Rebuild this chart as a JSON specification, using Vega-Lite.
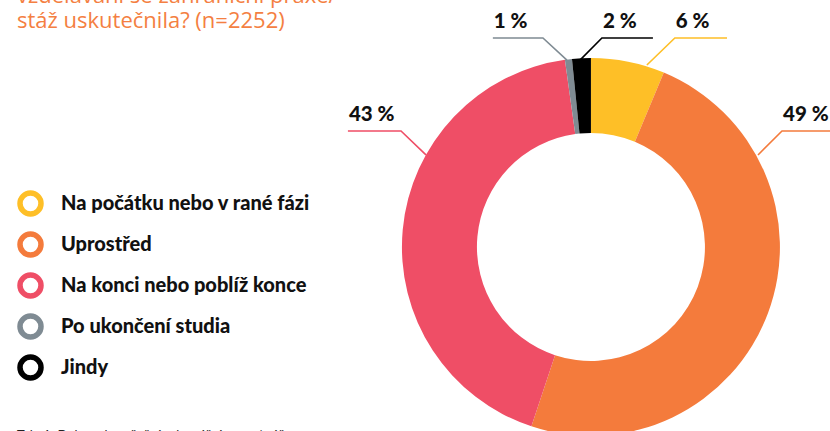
{
  "$schema": "https://vega.github.io/schema/vega-lite/v6.json",
  "width": 830,
  "height": 431,
  "autosize": "none",
  "padding": 0,
  "background": "white",
  "config": {"view": {"stroke": null}},
  "title": {
    "text": ["vzdělávání se zahraniční praxe/", "stáž uskutečnila? (n=2252)"],
    "anchor": "start",
    "frame": "group",
    "font": "Open Sans",
    "fontSize": 22,
    "fontWeight": "normal",
    "color": "#F47F42",
    "lineHeight": 25,
    "baseline": "alphabetic",
    "dx": 17,
    "dy": 54
  },
  "datasets": {
    "slices": [
      {"k": "Na počátku nebo v rané fázi", "v": 6.3, "o": 1},
      {"k": "Uprostřed", "v": 48.8, "o": 2},
      {"k": "Na konci nebo poblíž konce", "v": 42.7, "o": 3},
      {"k": "Po ukončení studia", "v": 0.6, "o": 4},
      {"k": "Jindy", "v": 1.6, "o": 5}
    ],
    "leaders": [
      {"k": "Po ukončení studia", "o": 1, "x": -51.9, "y": 110.6, "t": "1 %"},
      {"k": "Po ukončení studia", "o": 2, "x": -25.4, "y": 110.6},
      {"k": "Po ukončení studia", "o": 3, "x": -12.7, "y": 98.9},
      {"k": "Jindy", "o": 1, "x": -5.8, "y": 98.9},
      {"k": "Jindy", "o": 2, "x": 5.8, "y": 110.6, "t": "2 %"},
      {"k": "Jindy", "o": 3, "x": 32.8, "y": 110.6},
      {"k": "Na počátku nebo v rané fázi", "o": 1, "x": 29.6, "y": 96.3},
      {"k": "Na počátku nebo v rané fázi", "o": 2, "x": 44.4, "y": 110.6, "t": "6 %"},
      {"k": "Na počátku nebo v rané fázi", "o": 3, "x": 72.0, "y": 110.6},
      {"k": "Na konci nebo poblíž konce", "o": 1, "x": -128.6, "y": 61.4, "t": "43 %"},
      {"k": "Na konci nebo poblíž konce", "o": 2, "x": -100.5, "y": 61.4},
      {"k": "Na konci nebo poblíž konce", "o": 3, "x": -87.3, "y": 48.7},
      {"k": "Uprostřed", "o": 1, "x": 88.4, "y": 48.7},
      {"k": "Uprostřed", "o": 2, "x": 101.1, "y": 61.4, "t": "49 %"},
      {"k": "Uprostřed", "o": 3, "x": 130.0, "y": 61.4}
    ],
    "notes": [
      {"t": "Tab. 1: Doba uskutečnění zahraniční praxe/stáže"}
    ]
  },
  "layer": [
    {
      "data": {"name": "slices"},
      "mark": {"type": "arc", "outerRadius": 189, "innerRadius": 114},
      "encoding": {
        "theta": {"field": "v", "type": "quantitative", "stack": true},
        "order": {"field": "o", "type": "quantitative"},
        "x": {"datum": 0, "type": "quantitative", "scale": {"domain": [-312.7, 126.5], "nice": false, "zero": false}, "axis": null},
        "y": {"datum": 0, "type": "quantitative", "scale": {"domain": [-97.4, 130.7], "nice": false, "zero": false}, "axis": null},
        "color": {
          "field": "k",
          "type": "nominal",
          "sort": null,
          "scale": {"range": ["#FEBF27", "#F47B3C", "#EF4E66", "#7F8B93", "#000000"]},
          "legend": null
        }
      }
    },
    {
      "data": {"name": "leaders"},
      "mark": {"type": "line", "strokeWidth": 1.6},
      "encoding": {
        "x": {"field": "x", "type": "quantitative"},
        "y": {"field": "y", "type": "quantitative"},
        "order": {"field": "o", "type": "quantitative"},
        "stroke": {
          "field": "k",
          "type": "nominal",
          "scale": {
            "domain": ["Na počátku nebo v rané fázi", "Uprostřed", "Na konci nebo poblíž konce", "Po ukončení studia", "Jindy"],
            "range": ["#FEBF27", "#F47B3C", "#EF4E66", "#7F8B93", "#000000"]
          },
          "legend": {
            "orient": "none",
            "legendX": 17,
            "legendY": 190,
            "title": null,
            "padding": 0,
            "labelFont": "Lato",
            "labelFontSize": 20,
            "labelFontWeight": 900,
            "labelColor": "#111111",
            "labelOffset": 17,
            "labelLimit": 0,
            "symbolType": "circle",
            "symbolSize": 441,
            "symbolStrokeWidth": 5.5,
            "symbolFillColor": "white",
            "rowPadding": -2
          }
        }
      }
    },
    {
      "data": {"name": "leaders"},
      "transform": [{"filter": "datum.t != null"}],
      "mark": {"type": "text", "align": "left", "baseline": "alphabetic", "dx": 1, "dy": -10, "font": "Lato", "fontSize": 20.5, "fontWeight": 900, "color": "#111111"},
      "encoding": {
        "x": {"field": "x", "type": "quantitative"},
        "y": {"field": "y", "type": "quantitative"},
        "text": {"field": "t"}
      }
    },
    {
      "data": {"name": "notes"},
      "mark": {"type": "text", "align": "left", "baseline": "alphabetic", "font": "Lato", "fontSize": 13, "color": "#222222"},
      "encoding": {
        "x": {"datum": -303.7, "type": "quantitative"},
        "y": {"datum": -102.1, "type": "quantitative"},
        "text": {"field": "t"}
      }
    }
  ]
}
